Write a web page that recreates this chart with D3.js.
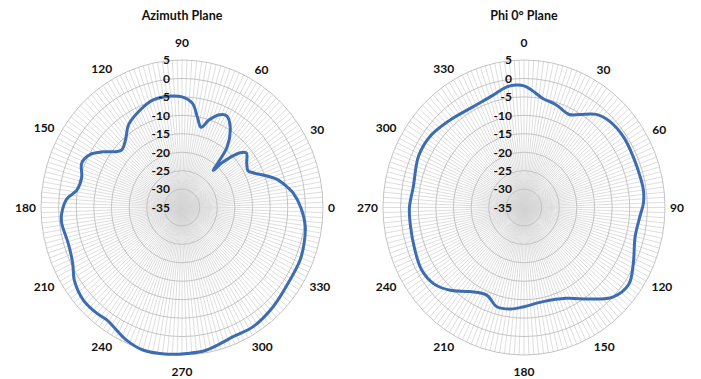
<!DOCTYPE html>
<html>
<head>
<meta charset="utf-8">
<script src="https://cdn.jsdelivr.net/npm/d3@7"></script>
<style>
  body { margin: 0; background: #fff; }
  svg { display: block; font-family: Lato, "Open Sans", sans-serif; }
</style>
</head>
<body>
<svg id="chart" width="701" height="379"></svg>
<script>
const width = 701;
const height = 379;

// gain rings (dB) and angle labels
const ringTicks = [5, 0, -5, -10, -15, -20, -25, -30, -35];
const angleTicks = [0, 30, 60, 90, 120, 150, 180, 210, 240, 270, 300, 330];

// Azimuth plane: degrees counter-clockwise from the right
const azAngles = [0, 7, 10, 16, 25, 28, 33, 39, 42, 47, 48.5, 52, 58, 63, 67, 72, 76, 80, 84, 90,
  96, 106, 114, 124, 131, 138, 146, 151, 157, 164, 171, 176, 183, 187, 197, 206, 213, 222, 230,
  235, 246, 254, 264, 272, 280, 293, 302, 314, 327, 337, 344, 352];
const azGain = [-1.3, -3.2, -4.4, -7.1, -12.7, -13.8, -13.1, -11.5, -12.8, -18.5, -21.6, -14.2, -9.2, -7.1, -7.7, -10.0, -12.6, -10.0, -6.6, -5.0,
  -4.6, -4.7, -6.0, -7.9, -10.6, -11.8, -8.0, -5.3, -4.1, -5.4, -4.8, -2.2, -0.8, -0.6, -1.3, -0.5, 1.4, 2.6, 2.5,
  2.2, 4.2, 5.2, 5.0, 4.6, 4.3, 2.9, 3.1, 2.3, 1.4, 1.4, 1.0, 0.3];

// Phi 0 plane: degrees clockwise from the top
const phiAngles = [0, 4, 10, 18, 27, 32, 39, 46, 56, 66, 76, 82, 88, 94, 104, 116, 125, 134, 143, 154,
  168, 180, 188, 196, 204, 214, 223, 231, 240, 250, 261, 270, 280, 295, 306, 318, 332, 344, 351, 356];
const phiGain = [-2.0, -3.1, -4.9, -5.7, -6.7, -5.3, -2.5, -1.3, -0.9, -1.1, -1.0, -0.8, -1.1, -2.0, -2.5, -0.5, 1.3, 0.0, -3.9, -7.6,
  -8.9, -8.1, -7.2, -7.0, -9.0, -7.5, -4.3, -2.1, -1.4, -2.0, -2.4, -2.5, -3.1, -2.0, -2.1, -3.3, -4.1, -3.3, -2.0, -1.7];

const cy = 207.5;
const rx = 141;
const ry = 147.5;
const lineColor = "#3c6db2";

const svg = d3.select("#chart");
svg.append("rect").attr("width", width).attr("height", height).attr("fill", "#fff");

const r = d3.scaleLinear().domain([-35, 5]).range([0, rx]);

// toTop converts a chart angle into clockwise-from-top degrees
function drawPolar(opts) {
    const g = svg.append("g").attr("transform", `translate(${opts.cx},${cy})`);
    const plot = g.append("g").attr("transform", `scale(1,${ry / rx})`);

    // spokes
    plot.selectAll(".spoke")
        .data(d3.range(0, 360, 2))
        .enter().append("line")
        .attr("class", "spoke")
        .attr("x1", 0).attr("y1", 0)
        .attr("x2", d => r(5) * Math.sin(d * Math.PI / 180))
        .attr("y2", d => -r(5) * Math.cos(d * Math.PI / 180))
        .attr("stroke", "#d6d6d6")
        .attr("stroke-width", 0.8)
        .attr("vector-effect", "non-scaling-stroke");

    // rings
    plot.selectAll(".ring")
        .data(ringTicks.filter(v => v > -35))
        .enter().append("circle")
        .attr("class", "ring")
        .attr("r", d => r(d))
        .attr("fill", "none")
        .attr("stroke", "#bdbdbd")
        .attr("stroke-width", 0.9)
        .attr("vector-effect", "non-scaling-stroke");

    // gain labels along the top axis
    g.selectAll(".rlabel")
        .data(ringTicks)
        .enter().append("text")
        .attr("class", "rlabel")
        .attr("x", -12)
        .attr("y", d => -r(d) * ry / rx)
        .attr("dy", "0.36em")
        .attr("text-anchor", "end")
        .attr("font-size", 12)
        .attr("font-weight", "bold")
        .attr("fill", "#111")
        .text(d => d);

    // pattern
    const line = d3.lineRadial()
        .angle(d => opts.toTop(d[0]) * Math.PI / 180)
        .radius(d => r(d[1]))
        .curve(d3.curveCatmullRomClosed.alpha(0.5));

    plot.append("path")
        .datum(d3.zip(opts.angles, opts.gain))
        .attr("d", line)
        .attr("fill", "none")
        .attr("stroke", lineColor)
        .attr("stroke-width", 3)
        .attr("stroke-linejoin", "round")
        .attr("vector-effect", "non-scaling-stroke");

    // angle labels
    angleTicks.forEach(a => {
        const t = opts.toTop(a) * Math.PI / 180;
        const s = Math.sin(t), c = Math.cos(t);
        const label = g.append("text")
            .attr("text-anchor", "middle")
            .attr("font-size", 12)
            .attr("font-weight", "bold")
            .attr("fill", "#111")
            .text(a);
        const w = label.node().getComputedTextLength();
        const edge = Math.hypot(rx * s, ry * c);
        const dist = edge + 5 + (w / 2) * Math.abs(s) + 5 * Math.abs(c) + 7 * Math.pow(Math.abs(c), 30);
        label.attr("x", dist * s).attr("y", -dist * c).attr("dy", "0.36em");
    });

    svg.append("text")
        .attr("x", opts.cx)
        .attr("y", 20)
        .attr("text-anchor", "middle")
        .attr("font-size", 12.5)
        .attr("font-weight", "bold")
        .attr("fill", "#111")
        .text(opts.title);
}

drawPolar({ title: "Azimuth Plane", cx: 182, angles: azAngles, gain: azGain, toTop: a => 90 - a });
drawPolar({ title: "Phi 0° Plane", cx: 524, angles: phiAngles, gain: phiGain, toTop: a => a });
</script>
</body>
</html>
